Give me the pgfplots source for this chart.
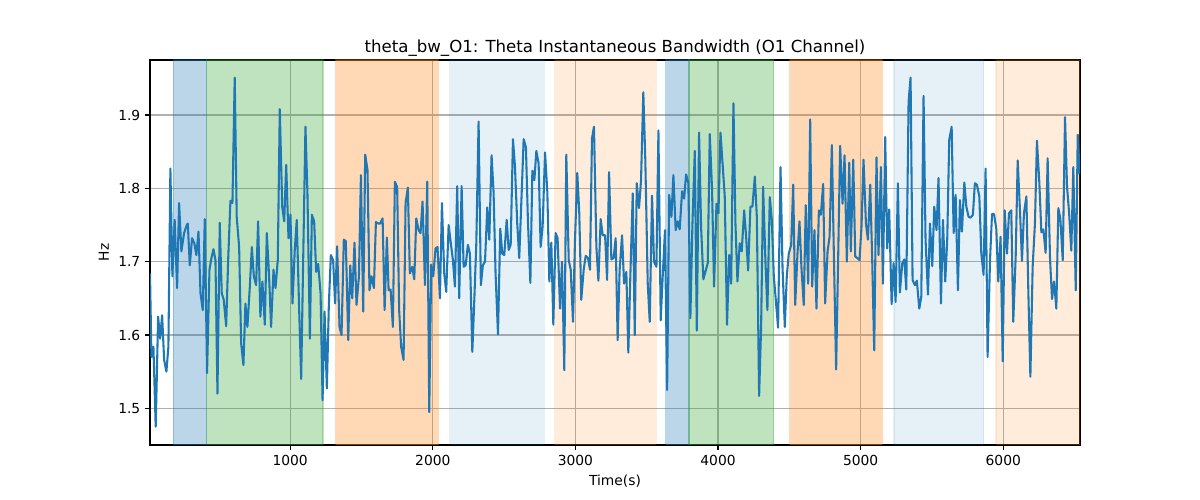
\documentclass[border=0pt]{standalone}
\usepackage{fontspec}
\setmainfont{DejaVu Sans}
\usepackage{pgfplots}
\pgfplotsset{compat=1.18}
\definecolor{tabblue}{RGB}{31,119,180}
\definecolor{taborange}{RGB}{255,127,14}
\definecolor{tabgreen}{RGB}{44,160,44}
\definecolor{gridgray}{RGB}{176,176,176}
\begin{document}
\begin{tikzpicture}
\path[use as bounding box] (0,0) rectangle (12in,5in);
\begin{axis}[
  at={(1.5in,0.55in)}, anchor=south west,
  scale only axis, width=9.3in, height=3.85in,
  xmin=17, xmax=6538, ymin=1.45, ymax=1.975,
  xtick={1000,2000,3000,4000,5000,6000},
  ytick={1.5,1.6,1.7,1.8,1.9},
  scaled x ticks=false,
  /pgf/number format/assume math mode=true,
  xticklabel style={/pgf/number format/1000 sep={}},
  yticklabel style={/pgf/number format/.cd, fixed, fixed zerofill, precision=1},
  tick label style={font=\fontsize{10}{12}\selectfont},
  label style={font=\fontsize{10}{12}\selectfont},
  title style={font=\fontsize{12}{14}\selectfont, yshift=-7pt},
  title={theta\_bw\_O1: Theta Instantaneous Bandwidth (O1 Channel)},
  xlabel={Time(s)}, ylabel={Hz},
  grid=major, grid style={color=gridgray, line width=0.8pt},
  tick align=outside, tick pos=left,
  major tick length=3.5pt,
  tick style={black, line width=0.8pt},
  axis line style={line width=0.8pt},
  every axis plot/.append style={forget plot},
]
% spans
\addplot[draw=tabblue, fill=tabblue, opacity=0.3, line width=1pt] coordinates {(181,1.45) (415,1.45) (415,1.975) (181,1.975)} -- cycle;
\addplot[draw=tabgreen, fill=tabgreen, opacity=0.3, line width=1pt] coordinates {(415,1.45) (1231,1.45) (1231,1.975) (415,1.975)} -- cycle;
\addplot[draw=taborange, fill=taborange, opacity=0.3, line width=1pt] coordinates {(1318,1.45) (2038,1.45) (2038,1.975) (1318,1.975)} -- cycle;
\addplot[draw=tabblue, fill=tabblue, opacity=0.11, line width=1pt] coordinates {(2118,1.45) (2782,1.45) (2782,1.975) (2118,1.975)} -- cycle;
\addplot[draw=taborange, fill=taborange, opacity=0.15, line width=1pt] coordinates {(2854,1.45) (3568,1.45) (3568,1.975) (2854,1.975)} -- cycle;
\addplot[draw=tabblue, fill=tabblue, opacity=0.3, line width=1pt] coordinates {(3633,1.45) (3795,1.45) (3795,1.975) (3633,1.975)} -- cycle;
\addplot[draw=tabgreen, fill=tabgreen, opacity=0.3, line width=1pt] coordinates {(3795,1.45) (4389,1.45) (4389,1.975) (3795,1.975)} -- cycle;
\addplot[draw=taborange, fill=taborange, opacity=0.3, line width=1pt] coordinates {(4503,1.45) (5153,1.45) (5153,1.975) (4503,1.975)} -- cycle;
\addplot[draw=tabblue, fill=tabblue, opacity=0.11, line width=1pt] coordinates {(5233,1.45) (5862,1.45) (5862,1.975) (5233,1.975)} -- cycle;
\addplot[draw=taborange, fill=taborange, opacity=0.15, line width=1pt] coordinates {(5949,1.45) (6538,1.45) (6538,1.975) (5949,1.975)} -- cycle;
% signal
\addplot[tabblue, line width=1.5pt, line join=round, mark=none] coordinates {
(17,1.684) (27,1.570) (41,1.584) (57,1.475) (74,1.625) (88,1.595) (102,1.627) (116,1.566) (132,1.550) (146,1.584)
(160,1.827) (174,1.680) (190,1.757) (207,1.664) (221,1.780) (237,1.714) (256,1.739) (275,1.750) (282,1.752) (296,1.695)
(312,1.732) (328,1.725) (342,1.709) (357,1.741) (371,1.657) (387,1.634) (401,1.758) (417,1.548) (434,1.689) (448,1.705)
(462,1.717) (476,1.702) (490,1.520) (506,1.753) (520,1.657) (534,1.648) (551,1.612) (565,1.702) (581,1.783) (595,1.780)
(611,1.951) (625,1.761) (642,1.720) (656,1.589) (672,1.559) (686,1.643) (700,1.611) (717,1.666) (731,1.720) (745,1.680)
(761,1.668) (775,1.755) (791,1.625) (805,1.673) (822,1.614) (836,1.739) (852,1.680) (866,1.611) (883,1.689) (897,1.664)
(913,1.702) (927,1.908) (944,1.775) (958,1.755) (972,1.832) (988,1.732) (1002,1.764) (1016,1.643) (1032,1.716) (1046,1.757)
(1063,1.634) (1077,1.540) (1091,1.702) (1107,1.884) (1121,1.793) (1138,1.595) (1152,1.764) (1168,1.755) (1182,1.686) (1196,1.697)
(1213,1.657) (1227,1.511) (1241,1.632) (1257,1.527) (1271,1.641) (1285,1.709) (1301,1.702) (1315,1.643) (1329,1.721) (1346,1.611)
(1360,1.600) (1376,1.730) (1390,1.728) (1407,1.593) (1421,1.695) (1435,1.650) (1451,1.726) (1465,1.641) (1482,1.680) (1496,1.818)
(1512,1.632) (1526,1.846) (1542,1.825) (1556,1.661) (1570,1.680) (1587,1.664) (1601,1.754) (1617,1.752) (1631,1.752) (1648,1.759)
(1662,1.634) (1678,1.733)
(1690,1.661) (1704,1.662) (1720,1.611) (1734,1.809) (1750,1.802) (1764,1.634) (1778,1.584) (1795,1.566) (1809,1.780) (1825,1.801)
(1839,1.684) (1856,1.693) (1870,1.676) (1884,1.759) (1900,1.743) (1914,1.739) (1928,1.782) (1945,1.668) (1961,1.809) (1975,1.495)
(1989,1.696) (2003,1.680) (2019,1.718) (2033,1.720) (2050,1.650) (2064,1.780) (2080,1.684) (2094,1.659) (2111,1.750) (2125,1.727)
(2141,1.702) (2155,1.666) (2171,1.803) (2185,1.650) (2202,1.803) (2216,1.693) (2230,1.695) (2246,1.723) (2260,1.711) (2277,1.577)
(2291,1.648) (2305,1.725) (2321,1.891) (2337,1.668) (2351,1.695) (2366,1.700) (2382,1.774) (2396,1.730) (2412,1.845) (2426,1.795)
(2440,1.684) (2457,1.601) (2473,1.745) (2487,1.711) (2501,1.709) (2518,1.757) (2532,1.716) (2546,1.723) (2562,1.867) (2576,1.830)
(2592,1.752) (2606,1.705) (2623,1.793) (2637,1.867) (2653,1.856) (2667,1.755) (2684,1.671) (2698,1.824) (2712,1.811) (2726,1.851)
(2742,1.834) (2756,1.720) (2770,1.748) (2787,1.849) (2803,1.795) (2817,1.673) (2831,1.726) (2845,1.614) (2861,1.739) (2875,1.732)
(2892,1.636) (2906,1.700) (2922,1.552) (2936,1.846) (2953,1.702) (2967,1.689) (2983,1.618) (2997,1.730) (3013,1.821) (3027,1.766)
(3041,1.648) (3058,1.689) (3072,1.708) (3088,1.705) (3102,1.689) (3116,1.868) (3130,1.884) (3147,1.720) (3161,1.674) (3177,1.758)
(3191,1.736) (3208,1.736) (3222,1.675) (3236,1.822) (3252,1.703) (3268,1.705) (3282,1.732) (3296,1.593) (3310,1.689)
(3327,1.736) (3341,1.670) (3357,1.686) (3371,1.576) (3385,1.680) (3402,1.793) (3416,1.600) (3430,1.807) (3446,1.773) (3460,1.811)
(3476,1.931) (3490,1.839) (3507,1.670) (3521,1.618) (3537,1.790) (3551,1.700) (3568,1.693) (3582,1.879) (3598,1.620) (3612,1.680)
(3628,1.743) (3643,1.525) (3657,1.791) (3673,1.761) (3687,1.818) (3703,1.743) (3717,1.755) (3731,1.744) (3748,1.796) (3762,1.786)
(3776,1.819) (3792,1.807) (3806,1.623) (3820,1.748) (3837,1.851) (3851,1.606) (3867,1.876) (3881,1.748) (3897,1.676) (3911,1.686)
(3928,1.698) (3942,1.874) (3958,1.798) (3972,1.666) (3989,1.779) (4003,1.766) (4017,1.876) (4033,1.830) (4047,1.789) (4063,1.614)
(4078,1.709) (4092,1.670) (4108,1.916) (4122,1.752) (4136,1.673) (4152,1.725) (4166,1.714) (4183,1.770) (4197,1.734) (4211,1.688)
(4227,1.775) (4241,1.775) (4258,1.816) (4272,1.761) (4288,1.517) (4302,1.611) (4316,1.802) (4332,1.702) (4346,1.634) (4363,1.788)
(4377,1.757) (4391,1.680) (4407,1.643) (4421,1.610) (4438,1.829) (4452,1.693) (4468,1.611) (4482,1.680) (4496,1.711) (4513,1.723)
(4527,1.805) (4541,1.641) (4557,1.711) (4571,1.755) (4585,1.691) (4601,1.641) (4615,1.777) (4632,1.670) (4646,1.894) (4660,1.666)
(4676,1.743) (4690,1.636) (4707,1.770) (4721,1.764) (4737,1.806) (4751,1.643) (4768,1.714) (4782,1.734) (4798,1.859) (4812,1.711)
(4828,1.553) (4842,1.702) (4856,1.858) (4873,1.779) (4887,1.845) (4903,1.700) (4920,1.835)
(4931,1.714) (4948,1.839) (4962,1.707) (4976,1.705) (4992,1.702) (5006,1.748) (5020,1.839) (5037,1.752) (5051,1.730) (5067,1.805)
(5081,1.702) (5095,1.579) (5111,1.842) (5125,1.709) (5142,1.829) (5156,1.670) (5172,1.870) (5186,1.718) (5200,1.771) (5217,1.642)
(5231,1.698) (5245,1.645) (5261,1.807) (5275,1.658) (5292,1.698) (5306,1.703) (5320,1.662) (5336,1.918) (5350,1.951) (5364,1.675)
(5380,1.668) (5394,1.674) (5411,1.636) (5425,1.652) (5441,1.926) (5455,1.730) (5472,1.655) (5486,1.752) (5502,1.694) (5516,1.775)
(5532,1.743) (5546,1.814) (5563,1.643) (5577,1.757) (5593,1.673) (5607,1.730) (5621,1.866) (5638,1.884) (5652,1.739) (5666,1.791)
(5682,1.661) (5696,1.784) (5710,1.741) (5727,1.808) (5741,1.775) (5757,1.761) (5771,1.760) (5787,1.764) (5801,1.807) (5815,1.805)
(5832,1.789) (5846,1.711) (5862,1.682) (5876,1.827) (5890,1.570) (5907,1.702) (5921,1.765) (5935,1.765) (5951,1.745) (5965,1.673)
(5981,1.734) (5996,1.564) (6010,1.770) (6026,1.711) (6040,1.766) (6056,1.770) (6070,1.618) (6087,1.707) (6101,1.838) (6117,1.770)
(6131,1.701) (6145,1.766) (6162,1.789) (6176,1.657) (6190,1.543) (6206,1.693) (6222,1.752) (6236,1.865) (6253,1.807) (6267,1.740)
(6281,1.744) (6297,1.712) (6311,1.841) (6328,1.703) (6342,1.649) (6356,1.673) (6372,1.636) (6386,1.773) (6400,1.759) (6417,1.702)
(6433,1.897) (6447,1.802) (6461,1.768) (6477,1.715) (6491,1.829) (6508,1.661) (6522,1.873) (6536,1.820)
};
\end{axis}
\end{tikzpicture}
\end{document}
